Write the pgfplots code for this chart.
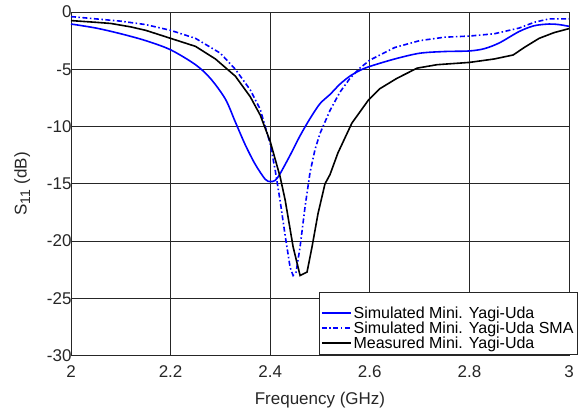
\documentclass[border=0pt]{standalone}
\usepackage{fontspec}
\setmainfont{Liberation Sans}
\usepackage{pgfplots}
\pgfplotsset{compat=1.18}
\begin{document}
\begin{tikzpicture}
\useasboundingbox (-71pt,-54.3pt) rectangle (508pt,355.7pt);
\begin{axis}[
  at={(0,0)}, anchor=south west,
  scale only axis, width=498pt, height=343.7pt,
  xmin=2, xmax=3, ymin=-30, ymax=0,
  xtick={2,2.2,2.4,2.6,2.8,3},
  ytick={-30,-25,-20,-15,-10,-5,0},
  xticklabels={2,2.2,2.4,2.6,2.8,3},
  yticklabels={-30,-25,-20,-15,-10,-5,0},
  tick align=inside, tick pos=both,
  major tick length=5pt,
  grid=major,
  major grid style={black!85, line width=0.9pt},
  axis line style={black!85, line width=0.9pt},
  every tick/.style={black!85, line width=0.9pt},
  tick label style={font=\fontsize{17}{19}\selectfont, text=black!85},
  xticklabel style={yshift=-6pt},
  yticklabel style={xshift=4pt},
  label style={font=\fontsize{17}{19}\selectfont, text=black!85},
  xlabel={Frequency (GHz)},
  ylabel={S\textsubscript{\fontsize{14}{14}\selectfont 11} (dB)},
  xlabel style={at={(axis description cs:0.5,-0.095)}, anchor=north},
  ylabel style={at={(axis description cs:-0.098,0.5)}, anchor=center},
  legend cell align=left,
  legend style={at={(1.018,0.003)}, anchor=south east, draw=black!85, line width=0.9pt,
    font=\fontsize{16}{16}\selectfont, row sep=-3pt, inner sep=2pt,
    nodes={inner ysep=2.5pt}},
  legend image code/.code={\draw[#1, line width=1.6pt] (0pt,0pt) -- (29pt,0pt);},
]
\addlegendimage{empty legend}
\addlegendentry{\rule{0pt}{6pt}}
\addplot[blue, line width=1.6pt, smooth] coordinates {
(2.00,-1.05) (2.05,-1.4) (2.10,-1.9) (2.15,-2.5) (2.20,-3.3) (2.25,-4.6) (2.28,-5.8)
(2.31,-7.6) (2.33,-9.6) (2.35,-11.6) (2.37,-13.3) (2.39,-14.6) (2.40,-14.8) (2.41,-14.7)
(2.42,-14.1) (2.44,-12.5) (2.46,-10.8) (2.48,-9.3) (2.50,-8.0) (2.52,-7.2) (2.54,-6.3)
(2.56,-5.6) (2.58,-5.1) (2.60,-4.75) (2.65,-4.1) (2.70,-3.6) (2.75,-3.45) (2.80,-3.4)
(2.83,-3.2) (2.86,-2.7) (2.90,-1.7) (2.93,-1.2) (2.96,-1.05) (2.98,-1.1) (3.00,-1.25)
};
\addlegendentry{Simulated Mini. Yagi-Uda}
\addplot[blue, line width=1.6pt, dash pattern=on 5pt off 2.5pt on 1.5pt off 2.5pt] coordinates {
(2.00,-0.4) (2.05,-0.6) (2.10,-0.8) (2.15,-1.1) (2.20,-1.6) (2.25,-2.3) (2.30,-3.6)
(2.33,-5.0) (2.36,-6.8) (2.38,-8.5) (2.40,-11.5) (2.41,-13.8) (2.42,-16.5) (2.43,-19.5)
(2.44,-22.3) (2.446,-23.0) (2.452,-22.7) (2.46,-20.5) (2.47,-17.0) (2.48,-14.0) (2.49,-12.0)
(2.50,-10.6) (2.52,-8.6) (2.54,-7.0) (2.56,-5.8) (2.58,-4.9) (2.60,-4.2) (2.65,-3.1)
(2.70,-2.5) (2.75,-2.2) (2.80,-2.1) (2.85,-1.9) (2.90,-1.4) (2.93,-0.9) (2.96,-0.6) (3.00,-0.6)
};
\addlegendentry{Simulated Mini. Yagi-Uda SMA}
\addplot[black, line width=1.6pt] coordinates {
(2.00,-0.75) (2.05,-0.9) (2.08,-1.0) (2.12,-1.3) (2.15,-1.6) (2.20,-2.3) (2.25,-3.0)
(2.29,-4.1) (2.33,-5.6) (2.36,-7.4) (2.38,-9.0) (2.40,-11.3) (2.42,-14.4) (2.43,-16.4)
(2.446,-20.5) (2.46,-23.0) (2.474,-22.7) (2.484,-20.5) (2.496,-17.6) (2.51,-15.0) (2.52,-14.2)
(2.536,-12.3) (2.564,-9.7) (2.597,-7.7) (2.62,-6.7) (2.654,-5.8) (2.695,-4.9) (2.735,-4.6)
(2.80,-4.4) (2.85,-4.1) (2.888,-3.75) (2.91,-3.1) (2.94,-2.3) (2.97,-1.8) (3.00,-1.45)
};
\addlegendentry{Measured Mini. Yagi-Uda}
\end{axis}
\end{tikzpicture}
\end{document}
